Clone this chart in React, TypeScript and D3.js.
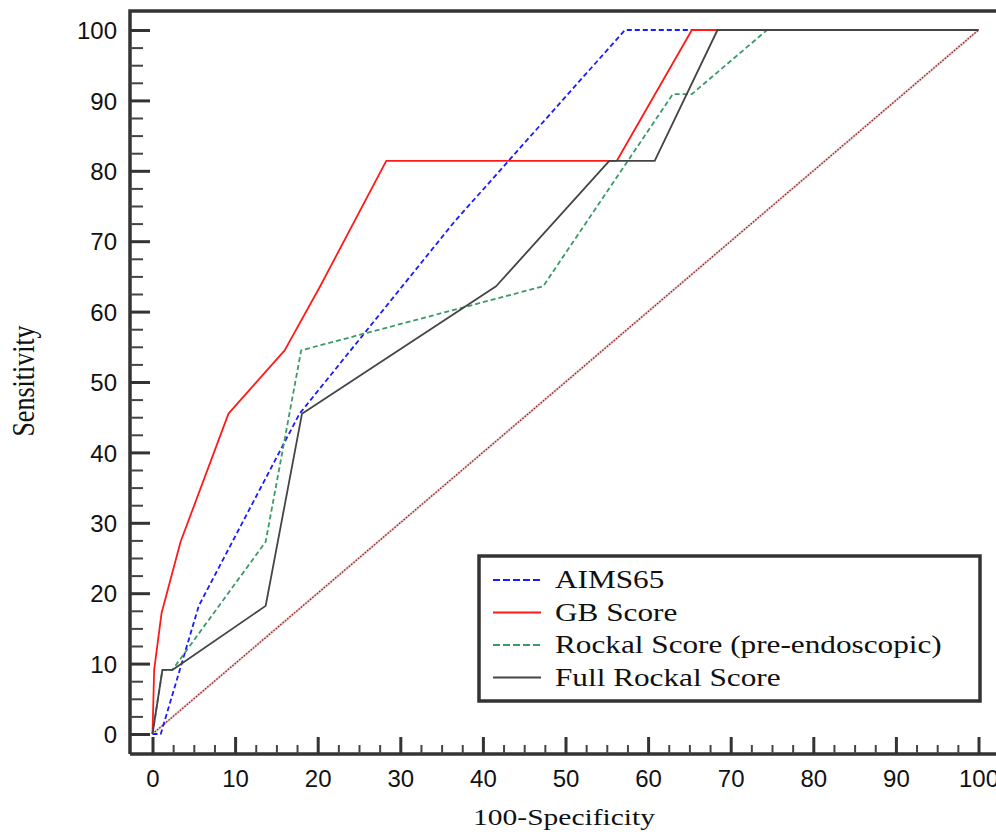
import React, { useEffect, useRef } from "react";
import * as d3 from "d3";

const WIDTH = 996;
const HEIGHT = 832;

// ROC curves, x = 100-Specificity, y = Sensitivity
const aimsX = [0, 1, 5.6, 17.8, 36.5, 57.2, 100];
const aimsY = [0, 0, 18.2, 45.5, 72.7, 100, 100];

const gbX = [0, 0.2, 1.1, 3.4, 9.2, 16, 20.3, 28.3, 56.2, 65.3, 100];
const gbY = [0, 9.1, 17.2, 27.3, 45.5, 54.5, 63.6, 81.4, 81.4, 100, 100];

const rockX = [0, 1.2, 2.4, 13.7, 18, 47.3, 63, 65.3, 74.4, 100];
const rockY = [0, 9.1, 9.1, 27.3, 54.5, 63.6, 90.9, 90.9, 100, 100];

const fullX = [0, 1.2, 2.4, 13.7, 18.1, 41.6, 55.3, 60.8, 68.4, 100];
const fullY = [0, 9.1, 9.1, 18.2, 45.5, 63.6, 81.4, 81.4, 100, 100];

const diagX = [0, 100];
const diagY = [0, 100];

const majorTicks = [0, 10, 20, 30, 40, 50, 60, 70, 80, 90, 100];
const minorTicks = d3.range(0, 100.01, 2.5).filter((v) => v % 10 !== 0);

const series = [
  { name: "AIMS65", xs: aimsX, ys: aimsY, color: "#1a1aff", dash: "5,3", legendDash: "7,3" },
  { name: "GB Score", xs: gbX, ys: gbY, color: "#ff1a1a", dash: null, legendDash: null },
  { name: "Rockal Score (pre-endoscopic)", xs: rockX, ys: rockY, color: "#3a9a68", dash: "5,3", legendDash: "7,3" },
  { name: "Full Rockal Score", xs: fullX, ys: fullY, color: "#444444", dash: null, legendDash: null },
];

const SERIF = "'Liberation Serif', 'Times New Roman', serif";
const SANS = "'Liberation Sans', Arial, sans-serif";

function App() {
  const ref = useRef<SVGSVGElement>(null);

  useEffect(() => {
    const svg = d3.select(ref.current);
    svg.selectAll("*").remove();

    const axisX = 130;
    const axisY = 754;

    const x = d3.scaleLinear().domain([0, 100]).range([152.5, 978.5]);
    const y = d3.scaleLinear().domain([0, 100]).range([734, 30]);

    // frame
    svg
      .append("path")
      .attr("d", `M${axisX},${axisY} L${axisX},11 L1000,11`)
      .attr("fill", "none")
      .attr("stroke", "#333")
      .attr("stroke-width", 3.5);
    svg
      .append("line")
      .attr("x1", axisX)
      .attr("x2", 1000)
      .attr("y1", axisY)
      .attr("y2", axisY)
      .attr("stroke", "#333")
      .attr("stroke-width", 3.5);

    // y axis
    const gy = svg.append("g").attr("transform", `translate(${axisX},0)`);
    gy.call(
      d3
        .axisLeft(y)
        .tickValues(majorTicks)
        .tickSizeInner(-20)
        .tickSizeOuter(0)
        .tickPadding(13)
    );
    gy.select(".domain").remove();
    gy.selectAll(".tick line").attr("stroke", "#333").attr("stroke-width", 3);
    gy.selectAll(".tick text")
      .attr("font-family", SANS)
      .attr("font-size", 24)
      .attr("fill", "#111")
      .attr("dy", "0.36em");

    const gym = svg.append("g").attr("transform", `translate(${axisX},0)`);
    gym.call(
      d3.axisLeft(y).tickValues(minorTicks).tickSizeInner(-13).tickSizeOuter(0).tickFormat(() => "")
    );
    gym.select(".domain").remove();
    gym.selectAll(".tick line").attr("stroke", "#444").attr("stroke-width", 2);

    // x axis
    const gx = svg.append("g").attr("transform", `translate(0,${axisY})`);
    gx.call(
      d3
        .axisBottom(x)
        .tickValues(majorTicks)
        .tickSizeInner(-17)
        .tickSizeOuter(0)
        .tickPadding(16)
    );
    gx.select(".domain").remove();
    gx.selectAll(".tick line").attr("stroke", "#333").attr("stroke-width", 3);
    gx.selectAll(".tick text")
      .attr("font-family", SANS)
      .attr("font-size", 24)
      .attr("fill", "#111");

    const gxm = svg.append("g").attr("transform", `translate(0,${axisY})`);
    gxm.call(
      d3.axisBottom(x).tickValues(minorTicks).tickSizeInner(-9).tickSizeOuter(0).tickFormat(() => "")
    );
    gxm.select(".domain").remove();
    gxm.selectAll(".tick line").attr("stroke", "#444").attr("stroke-width", 2);

    const line = d3
      .line<[number, number]>()
      .x((d) => x(d[0]))
      .y((d) => y(d[1]));

    // reference diagonal
    const diag = diagX.map((v, i) => [v, diagY[i]] as [number, number]);
    svg
      .append("path")
      .attr("d", line(diag))
      .attr("fill", "none")
      .attr("stroke", "#ecd0d0")
      .attr("stroke-width", 2.5);
    svg
      .append("path")
      .attr("d", line(diag))
      .attr("fill", "none")
      .attr("stroke", "#8b2020")
      .attr("stroke-width", 1.3)
      .attr("stroke-dasharray", "1.5,1.5");

    series.forEach((s) => {
      const pts = s.xs.map((v, i) => [v, s.ys[i]] as [number, number]);
      svg
        .append("path")
        .attr("d", line(pts))
        .attr("fill", "none")
        .attr("stroke", s.color)
        .attr("stroke-width", 1.8)
        .attr("stroke-linejoin", "round")
        .attr("stroke-dasharray", s.dash);
    });

    // legend
    svg
      .append("rect")
      .attr("x", 479)
      .attr("y", 556)
      .attr("width", 501)
      .attr("height", 145)
      .attr("fill", "white")
      .attr("stroke", "#333")
      .attr("stroke-width", 3.5);

    const lg = svg.append("g");
    series.forEach((s, i) => {
      const by = 588 + i * 32.5;
      lg.append("line")
        .attr("x1", 493)
        .attr("x2", 541)
        .attr("y1", by - 8)
        .attr("y2", by - 8)
        .attr("stroke", s.color)
        .attr("stroke-width", 1.8)
        .attr("stroke-dasharray", s.legendDash);
      lg.append("text")
        .attr("transform", `translate(555,${by}) scale(1.25,1)`)
        .attr("font-family", SERIF)
        .attr("font-size", 25)
        .attr("fill", "#111")
        .text(s.name);
    });

    // axis titles
    svg
      .append("text")
      .attr("transform", `translate(${(473 + 655) / 2},825) scale(1.23,1)`)
      .attr("text-anchor", "middle")
      .attr("font-family", SERIF)
      .attr("font-size", 24)
      .attr("fill", "#111")
      .text("100-Specificity");

    svg
      .append("text")
      .attr("transform", `translate(34,381) scale(1.23,1) rotate(-90)`)
      .attr("text-anchor", "middle")
      .attr("font-family", SERIF)
      .attr("font-size", 26)
      .attr("fill", "#111")
      .text("Sensitivity");
  }, []);

  return (
    <svg
      ref={ref}
      width={WIDTH}
      height={HEIGHT}
      style={{ position: "absolute", left: 0, top: 0, background: "white" }}
    />
  );
}

export default App;
